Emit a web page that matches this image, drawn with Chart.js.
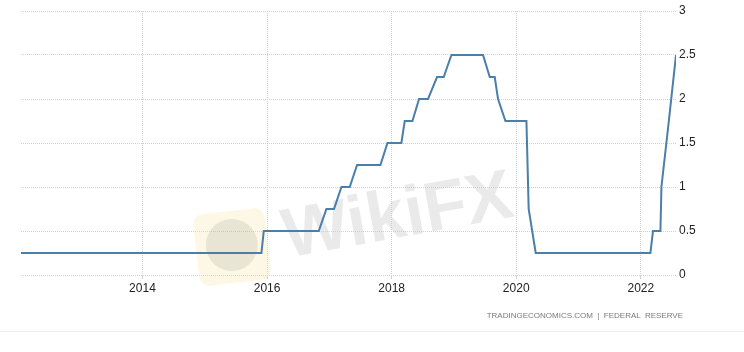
<!DOCTYPE html>
<html>
<head>
<meta charset="utf-8">
<script src="https://cdn.jsdelivr.net/npm/chart.js@4"></script>
<style>
  body { margin: 0; background: #fff; }
  #wrap { position: relative; width: 744px; height: 352px; overflow: hidden; }
  #source {
    position: absolute; right: 61px; top: 311px;
    font: 8px "Liberation Sans", Arial, sans-serif; color: #7a7a7a;
    white-space: pre;
  }
  #rule { position: absolute; left: 0; right: 0; top: 331px; height: 1px; background: #efefef; }
</style>
</head>
<body>
<div id="wrap">
  <canvas id="rateChart" width="744" height="352"></canvas>
  <div id="source">TRADINGECONOMICS.COM  |  FEDERAL  RESERVE</div>
  <div id="rule"></div>
</div>
<script>
// Fed funds rate (x = decimal year)
const years = [2012.05, 2015.91, 2015.947, 2016.83, 2016.953, 2017.075, 2017.194, 2017.327, 2017.445,
  2017.82, 2017.933, 2018.157, 2018.21, 2018.334, 2018.44, 2018.584, 2018.729, 2018.836, 2018.96,
  2019.467, 2019.575, 2019.655, 2019.708, 2019.827, 2020.164, 2020.2, 2020.313,
  2022.154, 2022.196, 2022.315, 2022.331, 2022.45, 2022.565];
const rates = [0.25, 0.25, 0.5, 0.5, 0.75, 0.75, 1.0, 1.0, 1.25,
  1.25, 1.5, 1.5, 1.75, 1.75, 2.0, 2.0, 2.25, 2.25, 2.5,
  2.5, 2.25, 2.25, 2.0, 1.75, 1.75, 0.75, 0.25,
  0.25, 0.5, 0.5, 1.0, 1.75, 2.5];

const xTicks = [2014, 2016, 2018, 2020, 2022];
const yTicks = [0, 0.5, 1, 1.5, 2, 2.5, 3];

const points = years.map((y, i) => ({ x: y, y: rates[i] }));

// faint watermark behind the line
const watermark = {
  id: 'watermark',
  beforeDatasetsDraw(chart) {
    const ctx = chart.ctx;
    ctx.save();
    ctx.translate(232, 247);
    ctx.rotate(-0.12);
    ctx.fillStyle = 'rgba(250, 232, 170, 0.3)';
    ctx.beginPath();
    ctx.roundRect(-36, -36, 72, 72, 10);
    ctx.fill();
    ctx.fillStyle = 'rgba(150, 150, 150, 0.2)';
    ctx.beginPath();
    ctx.arc(0, -2, 26, 0, Math.PI * 2);
    ctx.fill();
    ctx.restore();

    ctx.save();
    ctx.translate(398, 218);
    ctx.rotate(-0.18);
    ctx.font = 'bold 70px "Liberation Sans", Arial, sans-serif';
    ctx.textAlign = 'center';
    ctx.textBaseline = 'middle';
    ctx.fillStyle = 'rgba(200, 200, 200, 0.38)';
    ctx.fillText('WikiFX', 0, 0);
    ctx.restore();
  }
};

const tickFont = { family: '"Liberation Sans", Arial, sans-serif', size: 12 };

new Chart(document.getElementById('rateChart'), {
  type: 'line',
  data: {
    datasets: [{
      data: points,
      borderColor: '#4a7eab',
      borderWidth: 2,
      pointRadius: 0,
      tension: 0,
      fill: false
    }]
  },
  options: {
    responsive: false,
    animation: false,
    layout: { padding: { left: 21, top: 11, right: 0, bottom: 0 } },
    plugins: { legend: { display: false }, tooltip: { enabled: false } },
    scales: {
      x: {
        type: 'linear',
        min: years[0],
        max: years[years.length - 1],
        afterBuildTicks: s => { s.ticks = xTicks.map(v => ({ value: v })); },
        afterFit: s => { s.height = 77; },
        grid: { color: '#d2d2d2', tickLength: 4, drawTicks: true },
        border: { display: false, dash: [1, 1] },
        ticks: { color: '#222', font: tickFont, padding: 2, maxRotation: 0, callback: v => String(v) }
      },
      y: {
        position: 'right',
        min: 0,
        max: 3,
        afterBuildTicks: s => { s.ticks = yTicks.map(v => ({ value: v })); },
        afterFit: s => { s.width = 68; },
        grid: { color: '#d2d2d2', drawTicks: false },
        border: { display: false, dash: [1, 1] },
        ticks: { color: '#222', font: tickFont, padding: 3, callback: v => String(v) }
      }
    }
  },
  plugins: [watermark]
});
</script>
</body>
</html>
